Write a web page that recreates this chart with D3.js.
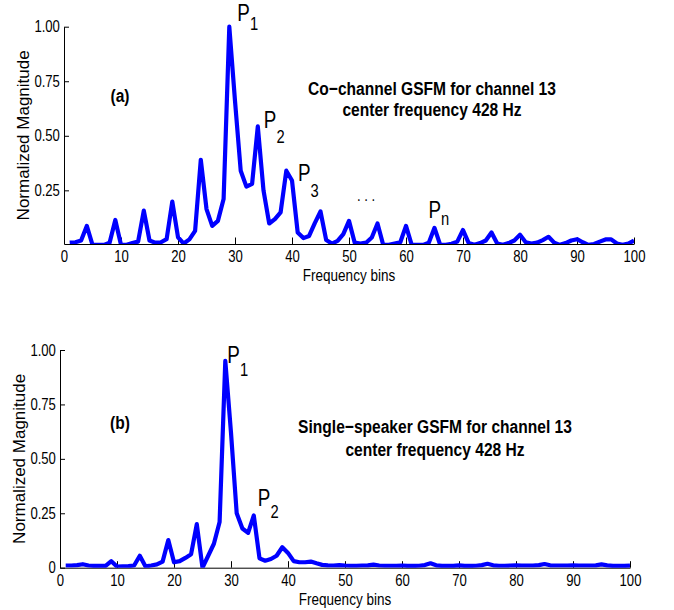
<!DOCTYPE html>
<html lang="en">
<head>
  <meta charset="utf-8">
  <title>GSFM for channel 13</title>
  <script src="https://cdn.jsdelivr.net/npm/d3@7"></script>
  <style>
    body { margin: 0; background: #fff; }
    text { fill: #000; font-family: "Liberation Sans", Arial, sans-serif; }
  </style>
</head>
<body>
  <svg class="chart"></svg>

<script>
  //1. Data
  var bins = d3.range(1, 101);

  var coChannel = [
    0.010, 0.012, 0.020, 0.087, 0.000, 0.000, 0.000, 0.010, 0.114, 0.000,
    0.000, 0.008, 0.015, 0.157, 0.020, 0.010, 0.012, 0.026, 0.198, 0.035,
    0.006, 0.025, 0.064, 0.390, 0.164, 0.087, 0.110, 0.210, 1.000, 0.660,
    0.340, 0.267, 0.280, 0.543, 0.250, 0.098, 0.118, 0.149, 0.340, 0.295,
    0.057, 0.031, 0.041, 0.100, 0.153, 0.022, 0.006, 0.018, 0.049, 0.110,
    0.010, 0.006, 0.010, 0.034, 0.098, 0.000, 0.000, 0.006, 0.012, 0.087,
    0.000, 0.000, 0.000, 0.010, 0.078, 0.000, 0.000, 0.005, 0.015, 0.068,
    0.008, 0.000, 0.008, 0.020, 0.057, 0.006, 0.000, 0.008, 0.020, 0.046,
    0.012, 0.006, 0.010, 0.022, 0.037, 0.010, 0.000, 0.008, 0.020, 0.026,
    0.012, 0.000, 0.004, 0.015, 0.025, 0.025, 0.006, 0.000, 0.006, 0.020
  ];

  var singleSpeaker = [
    0.010, 0.010, 0.012, 0.016, 0.010, 0.008, 0.008, 0.008, 0.030, 0.005,
    0.006, 0.007, 0.010, 0.055, 0.006, 0.010, 0.015, 0.028, 0.127, 0.025,
    0.030, 0.045, 0.062, 0.200, 0.000, 0.055, 0.110, 0.210, 0.950, 0.620,
    0.250, 0.180, 0.160, 0.240, 0.043, 0.032, 0.040, 0.055, 0.094, 0.068,
    0.030, 0.025, 0.025, 0.028, 0.020, 0.013, 0.011, 0.010, 0.012, 0.010,
    0.009, 0.009, 0.010, 0.011, 0.014, 0.010, 0.009, 0.009, 0.009, 0.010,
    0.008, 0.008, 0.009, 0.012, 0.020, 0.011, 0.008, 0.008, 0.008, 0.011,
    0.008, 0.008, 0.009, 0.012, 0.018, 0.011, 0.009, 0.009, 0.010, 0.011,
    0.010, 0.010, 0.010, 0.012, 0.017, 0.011, 0.010, 0.010, 0.010, 0.011,
    0.010, 0.010, 0.010, 0.011, 0.015, 0.011, 0.008, 0.008, 0.008, 0.010
  ];

  var xTicks = [0, 10, 20, 30, 40, 50, 60, 70, 80, 90, 100];
  var yTicksTop = [0.25, 0.50, 0.75, 1.00];
  var yTicksBottom = [0, 0.25, 0.50, 0.75, 1.00];

  var titleA = ["Co\u2212channel GSFM for channel 13", "center frequency 428 Hz"];
  var titleB = ["Single\u2212speaker GSFM for channel 13", "center frequency 428 Hz"];

  var peakBinsA = [29, 34, 40, 65];
  var peakSubsA = ["1", "2", "3", "n"];
  var peakBinsB = [29, 34];
  var peakSubsB = ["1", "2"];

  //2. Layout of the two panels
  var W = 674, H = 610;
  var SQ = 0.82; // horizontal squeeze, MATLAB's Helvetica renders narrow

  var panels = [
    { values: coChannel, x0: 64, x1: 634, yTop: 26.7, yBot: 244, yMin: 0.004,
      yTicks: yTicksTop, tag: "(a)", tagY: 102, title: titleA, titleX: 432, titleY: [95, 116],
      peakBins: peakBinsA, peakSubs: peakSubsA,
      peakOff: [[8, -6, 9], [6, 2, 15], [6, 0, 16], [-6, -10, 7]],
      dots: true },
    { values: singleSpeaker, x0: 60, x1: 630, yTop: 350, yBot: 567.7, yMin: 0,
      yTicks: yTicksBottom, tag: "(b)", tagY: 429, title: titleB, titleX: 435, titleY: [433, 456],
      peakBins: peakBinsB, peakSubs: peakSubsB,
      peakOff: [[2, 2, 13], [4, -9, 12]],
      dots: false }
  ];

  var svg = d3.select(".chart").attr("width", W).attr("height", H);

  // narrow text placed at (x, y)
  function label(parent, str, x, y, size, bold, anchor) {
    return parent.append("text")
      .attr("transform", "translate(" + x + "," + y + ") scale(" + SQ + ",1)")
      .attr("text-anchor", anchor || "start")
      .style("font-size", size + "px")
      .style("font-weight", bold ? "bold" : "normal")
      .text(str);
  }

  panels.forEach(function(p, k) {
    var x = d3.scaleLinear().domain([0, 100]).range([p.x0, p.x1]);
    var y = d3.scaleLinear().domain([p.yMin, 1]).range([p.yBot, p.yTop]);
    var g = svg.append("g");

    //3. Axes (MATLAB style: ticks pointing in, no box)
    var xAxis = g.append("g")
      .attr("transform", "translate(0," + p.yBot + ")")
      .call(d3.axisBottom(x).tickValues(xTicks).tickFormat(d3.format("d"))
        .tickSizeInner(-6.5).tickSizeOuter(0).tickPadding(7));
    var yAxis = g.append("g")
      .attr("transform", "translate(" + p.x0 + ",0)")
      .call(d3.axisLeft(y).tickValues(p.yTicks)
        .tickFormat(function(d) { return d === 0 ? "0" : d3.format(".2f")(d); })
        .tickSizeInner(-5).tickSizeOuter(0).tickPadding(5));
    [xAxis, yAxis].forEach(function(a) {
      a.select(".domain").attr("stroke", "#000").attr("stroke-width", 1);
      a.selectAll(".tick line").attr("stroke", "#000");
      a.selectAll("text")
        .attr("font-family", null).attr("font-size", null)
        .style("font-size", "16px").attr("fill", "#000")
        .attr("transform", "scale(" + SQ + ",1)");
    });

    //4. The line, clipped at the axes
    svg.append("clipPath").attr("id", "clip" + k)
      .append("rect")
      .attr("x", p.x0).attr("y", p.yTop - 12)
      .attr("width", p.x1 - p.x0).attr("height", p.yBot - p.yTop + 12);

    var line = d3.line()
      .x(function(d, i) { return x(bins[i]); })
      .y(function(d) { return y(d); });

    g.append("path")
      .datum(p.values)
      .attr("clip-path", "url(#clip" + k + ")")
      .attr("fill", "none")
      .attr("stroke", "#0000ff")
      .attr("stroke-width", 4.2)
      .attr("stroke-linejoin", "round")
      .attr("d", line);

    //5. Labels
    g.append("text")
      .style("font-size", "17px")
      .attr("text-anchor", "middle")
      .attr("transform", "translate(" + (p.x0 - 35) + "," + ((p.yTop + p.yBot) / 2) + ") rotate(-90)")
      .text("Normalized Magnitude");

    label(g, "Frequency bins", (p.x0 + p.x1) / 2, p.yBot + 37, 16.5, false, "middle");
    label(g, p.tag, 120, p.tagY, 19, true, "middle");
    p.title.forEach(function(t, i) {
      label(g, t, p.titleX, p.titleY[i], 19, true, "middle");
    });

    //6. Peak labels P1, P2, ...
    p.peakBins.forEach(function(b, i) {
      var off = p.peakOff[i];
      var t = label(g, "", x(b) + off[0], y(p.values[b - 1]) + off[1], 23, false);
      t.append("tspan").text("P");
      t.append("tspan").style("font-size", "18px").attr("dy", off[2]).text(p.peakSubs[i]);
    });

    if (p.dots) {
      label(g, ".  .  .", x(53), y(0.2), 16, false, "middle");
    }
  });
</script>
</body>
</html>
